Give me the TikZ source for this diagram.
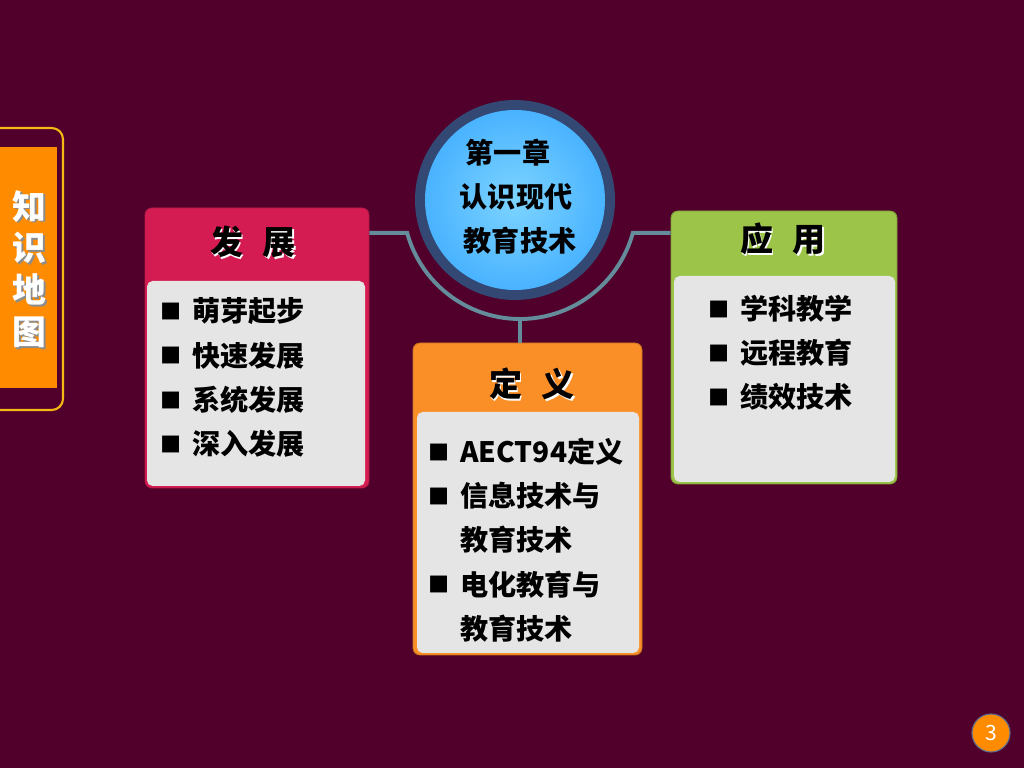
\documentclass[tikz,border=0pt]{standalone}
\usepackage{fontspec}
\setmainfont{Noto Sans CJK SC}
\usepackage{tikz}
\usetikzlibrary{positioning, calc}
\definecolor{plum}{RGB}{80, 0, 42}
\definecolor{goldline}{RGB}{245, 185, 20}
\definecolor{taborange}{RGB}{255, 140, 0}
\definecolor{ringblue}{RGB}{52, 72, 116}
\definecolor{balllight}{RGB}{125, 212, 255}
\definecolor{balldeep}{RGB}{22, 146, 255}
\definecolor{linkteal}{RGB}{100, 140, 155}
\definecolor{crimson}{RGB}{212, 28, 82}
\definecolor{leaf}{RGB}{156, 196, 72}
\definecolor{amber}{RGB}{250, 143, 40}
\definecolor{panelgray}{RGB}{229, 229, 229}
\pgfdeclareradialshading{ballblue}{\pgfpoint{0bp}{0bp}}{color(0bp)=(balllight); color(50bp)=(balldeep)}
\newcommand{\txtshadow}[2]{\leavevmode\rlap{\kern1.2pt\raisebox{-1.2pt}{\color{#1}#2}}#2}
\newcommand{\sqbullet}{\raisebox{1.6pt}{\fontsize{15}{15}\selectfont ■}}

\begin{document}
\begin{tikzpicture}[
  card/.style={rounded corners=5pt, inner sep=0pt, line width=0.6pt},
  panel/.style={fill=panelgray, rounded corners=4pt, inner sep=0pt},
  head/.style={inner sep=0pt, font=\fontsize{23.5}{28}\selectfont\bfseries},
  items/.style={anchor=west, inner sep=0pt, font=\fontsize{20}{31.5}\selectfont\bfseries},
  link/.style={draw=linkteal, line width=2.8pt}
]
  \useasboundingbox (0,0) rectangle (25.6,19.2);
  \fill[plum] (0,0) rectangle (25.6,19.2);

  % Tab on the left
  \node[draw=goldline, line width=1.5pt, rounded corners=8pt, inner sep=0pt, minimum width=2.175cm, minimum height=7.05cm] (tabframe) at (0.4875, 12.475) {};
  \node[fill=taborange, inner sep=0pt, minimum width=1.525cm, minimum height=6.025cm] (tab) at (0.6625, 12.5125) {};
  \node[align=center, text=white, inner sep=0pt, font=\fontsize{24}{29.8}\selectfont\bfseries] (tabtitle) at (0.73, 12.45)
    {\txtshadow{black!45}{知}\\\txtshadow{black!45}{识}\\\txtshadow{black!45}{地}\\\txtshadow{black!45}{图}};

  % Cards
  \node[card, fill=crimson, draw=crimson!85!black, minimum width=5.6cm, minimum height=7cm] (fazhan) at (6.425, 10.5) {};
  \node[panel, minimum width=5.45cm, minimum height=5.125cm] (fzpanel) at (6.4, 9.6125) {};
  \node[head] (fzhead) at (6.325, 13.125) {\txtshadow{white}{发\hspace{0.6em}展}};
  \node[items] (fzlist) at (4.0, 9.7125) {\begin{tabular}{@{}p{0.8cm}@{}l@{}}
    \sqbullet & 萌芽起步\\ \sqbullet & 快速发展\\ \sqbullet & 系统发展\\ \sqbullet & 深入发展
  \end{tabular}};

  \node[card, fill=leaf, draw=leaf!80!black, minimum width=5.65cm, minimum height=6.825cm] (yingyong) at (19.6, 10.5125) {};
  \node[panel, minimum width=5.525cm, minimum height=5.15cm] (yypanel) at (19.6125, 9.725) {};
  \node[head] (yyhead) at (19.575, 13.2) {\txtshadow{white}{应\hspace{0.6em}用}};
  \node[items] (yylist) at (17.7, 10.33) {\begin{tabular}{@{}p{0.8cm}@{}l@{}}
    \sqbullet & 学科教学\\ \sqbullet & 远程教育\\ \sqbullet & 绩效技术
  \end{tabular}};

  \node[card, fill=amber, draw=amber!80!black, minimum width=5.725cm, minimum height=7.8cm] (dingyi) at (13.1875, 6.725) {};
  \node[panel, minimum width=5.55cm, minimum height=6.025cm] (dypanel) at (13.2, 5.8875) {};
  \node[head] (dyhead) at (13.3, 9.575) {\txtshadow{white}{定\hspace{0.6em}义}};
  \node[items] (dylist) at (10.7, 5.65) {\begin{tabular}{@{}p{0.8cm}@{}l@{}}
    \sqbullet & AECT94定义\\ \sqbullet & 信息技术与\\ & 教育技术\\ \sqbullet & 电化教育与\\ & 教育技术
  \end{tabular}};

  % Connector round the hub
  \coordinate (hub) at (13.0, 14.15);
  \coordinate (hubL) at ($(hub)+(195.3:2.925)$);
  \coordinate (hubR) at ($(hub)+(344.7:2.925)$);
  \coordinate (hubB) at ($(hub)+(270:2.925)$);
  \draw[link] (fazhan.east |- hubL) -- (hubL) arc[start angle=195.3, end angle=344.7, radius=2.925] -- (yingyong.west |- hubR);
  \draw[link] (hubB) -- (hubB |- dingyi.north);

  % Centre circle
  \node[circle, fill=ringblue, minimum size=5cm, inner sep=0pt] (ring) at (12.875, 14.2) {};
  \node[circle, shading=ballblue, minimum size=4.5cm, inner sep=0pt] (ball) at (ring.center) {};
  \node[align=left, inner sep=0pt, font=\fontsize{20}{31.2}\selectfont\bfseries] (title) at (12.95, 14.275) {\hspace{0.15cm}第一章\\认识现代\\\hspace{0.1cm}教育技术};

  % Page number
  \node[circle, fill=taborange, draw=ringblue!80, line width=0.8pt, minimum size=0.95cm, inner sep=0pt, text=white, font=\fontsize{15}{15}\selectfont] (pagenum) at (24.775, 0.875) {3};
\end{tikzpicture}
\end{document}
